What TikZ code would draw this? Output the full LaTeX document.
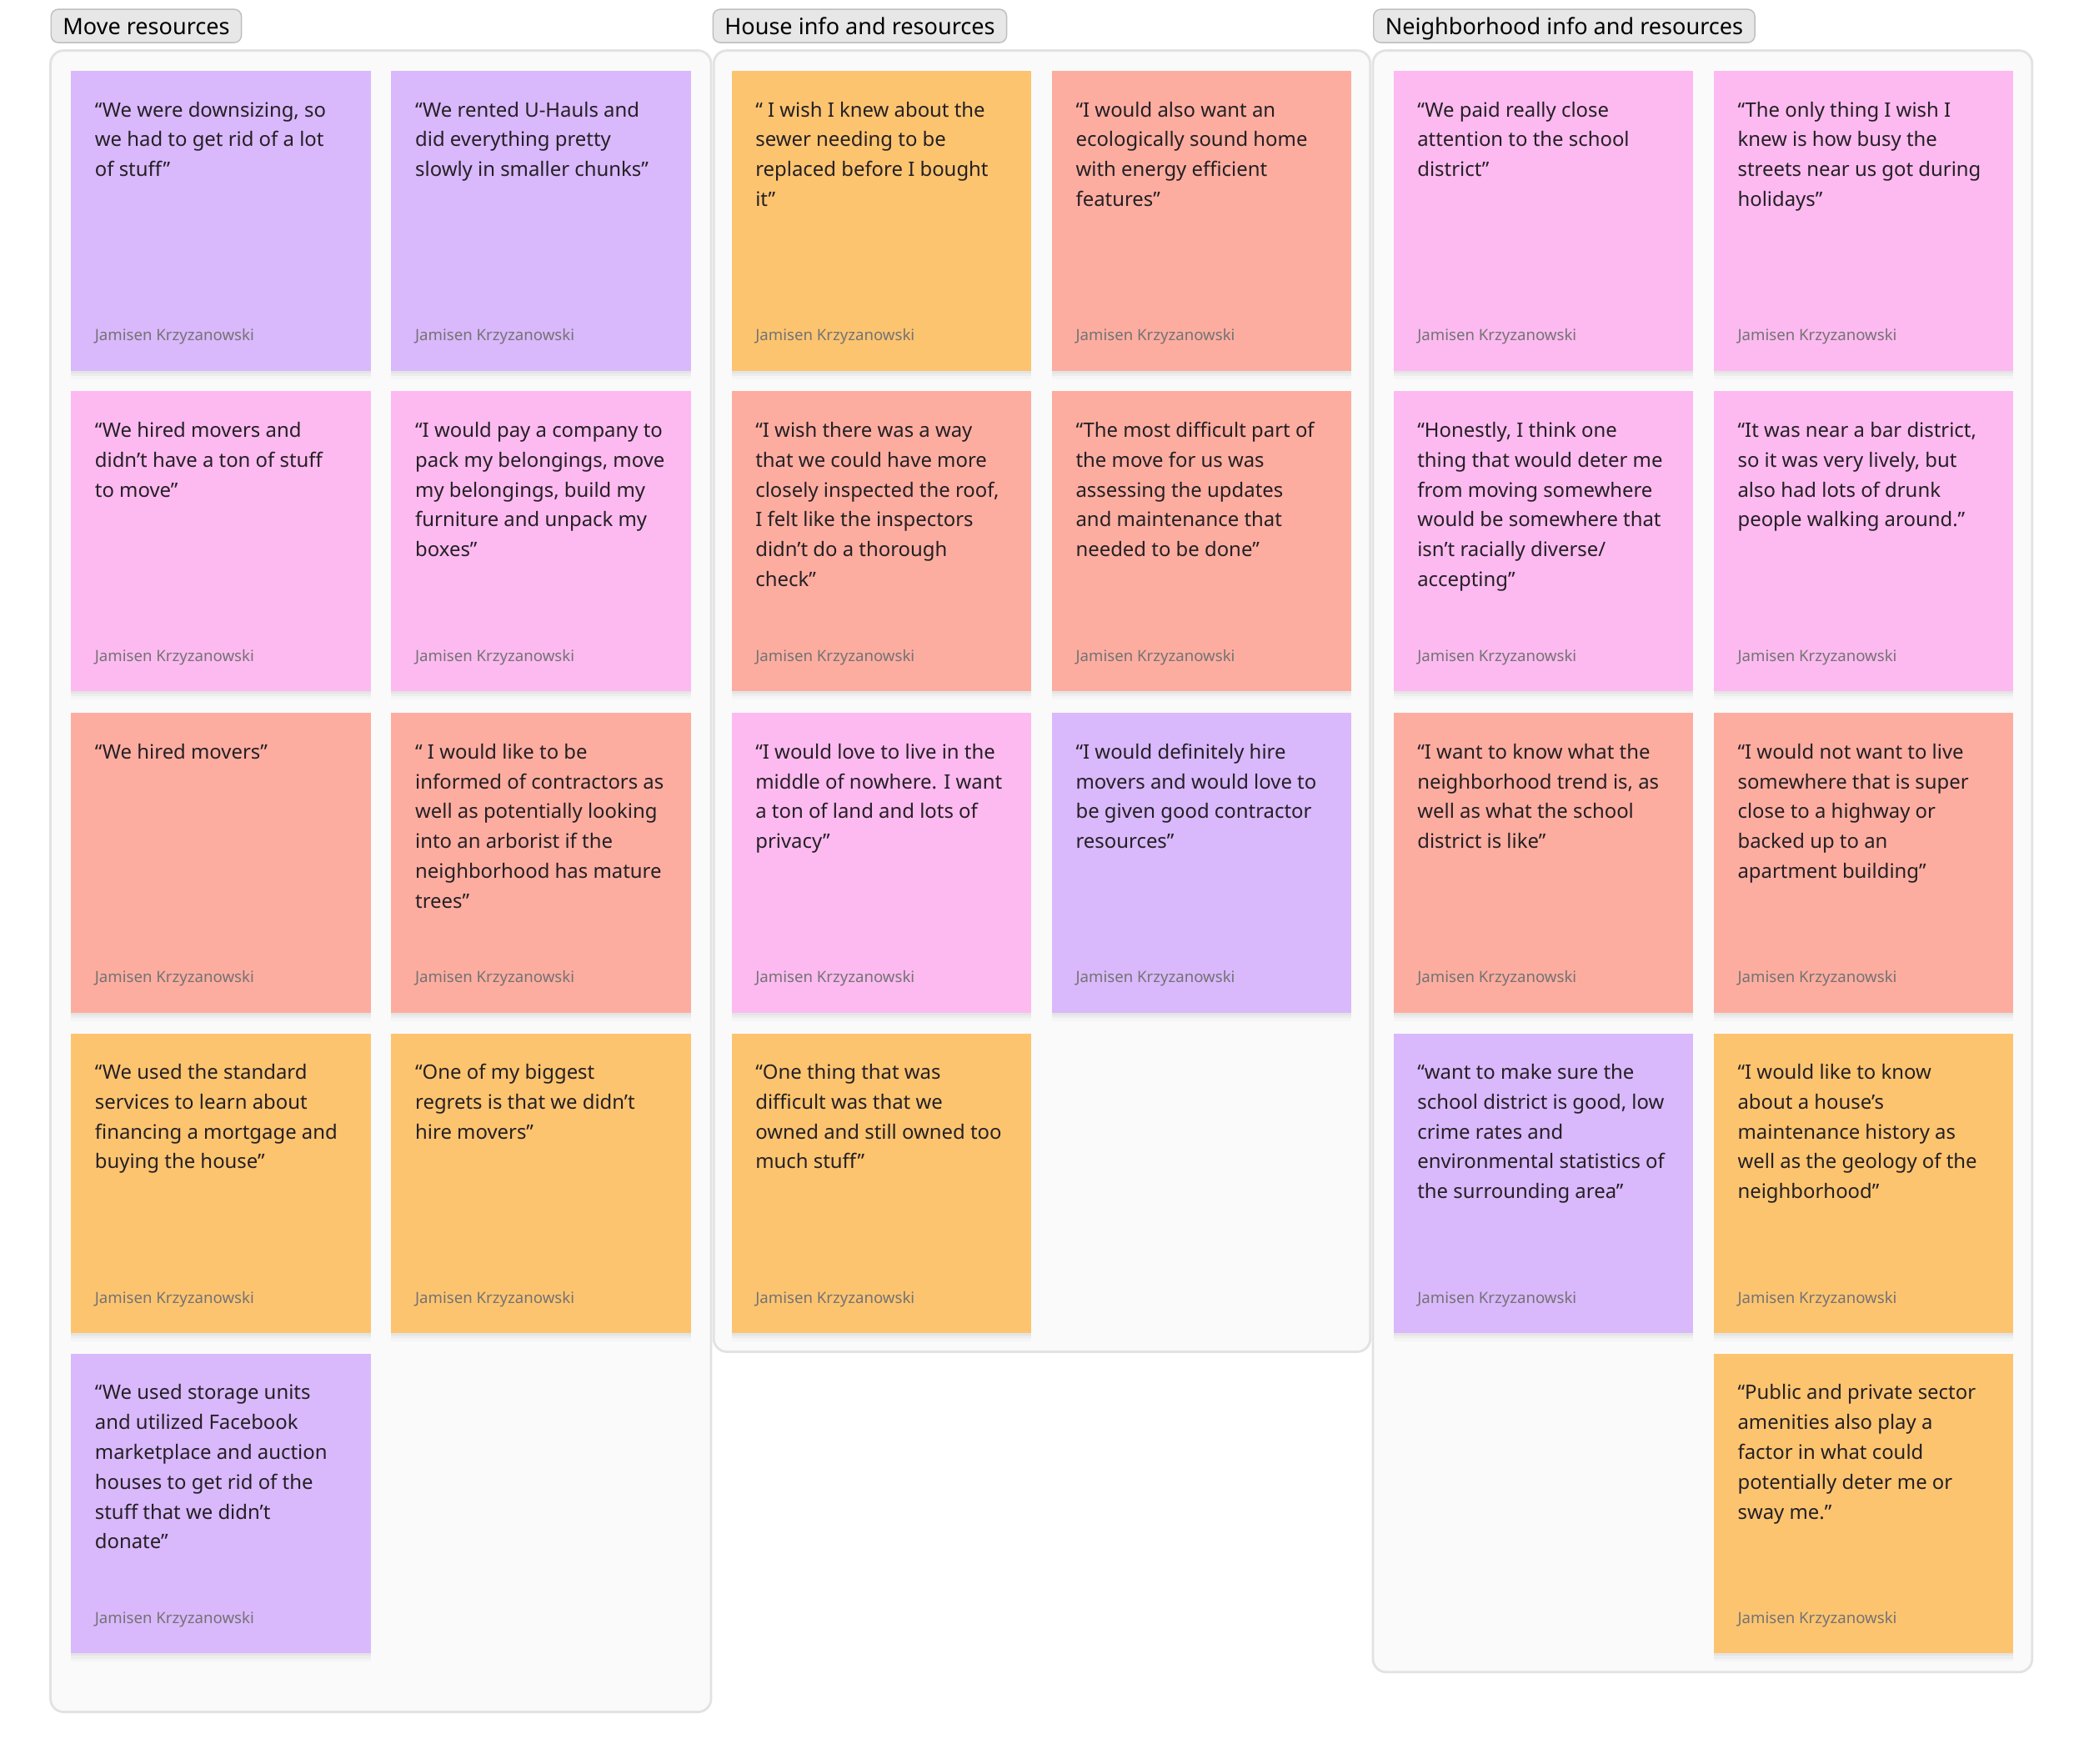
\documentclass[tikz,border=0pt]{standalone}
\usepackage{fontspec}
\setmainfont{Noto Sans}

\definecolor{cpurple}{RGB}{217,184,252}
\definecolor{cpink}{RGB}{253,186,240}
\definecolor{csalmon}{RGB}{253,173,160}
\definecolor{corange}{RGB}{253,196,112}
\definecolor{boardfill}{RGB}{250,250,250}
\definecolor{boardline}{RGB}{226,226,226}
\definecolor{tagfill}{RGB}{231,231,231}
\definecolor{tagline}{RGB}{190,190,190}
\definecolor{inktext}{RGB}{36,32,36}

% one sticky note: name, x of left edge, y of top edge, colour, text
\newcommand{\sticky}[5]{%
  \node[card, fill=#4, anchor=north west] (#1) at (#2,#3) {};
  \node[quote] (#1q) at ([shift={(18,23)}]#1.north west) {#5};
  \node[author] (#1a) at ([shift={(18,-23)}]#1.south west) {Jamisen Krzyzanowski};
}

\begin{document}
\begin{tikzpicture}[
  x=0.15944mm, y=-0.15944mm,
  board/.style={draw=boardline, line width=0.8pt, fill=boardfill, rounded corners=4.5pt},
  tag/.style={draw=tagline, fill=tagfill, rounded corners=2.5pt, anchor=west,
    minimum height=11.4pt, inner xsep=4pt, inner ysep=0pt,
    text height=6.6pt, text depth=0.8pt,
    font=\fontsize{7.7}{9}\selectfont},
  card/.style={rectangle, minimum size=35.95mm, inner sep=0pt,
    preaction={fill=black, fill opacity=0.035, transform canvas={yshift=-0.8pt}},
    preaction={fill=black, fill opacity=0.03, transform canvas={yshift=-1.8pt}},
    preaction={fill=black, fill opacity=0.02, transform canvas={yshift=-2.8pt}}},
  quote/.style={anchor=north west, inner sep=0pt, align=left, text=inktext,
    font=\fontsize{6.8}{10.2}\selectfont},
  author/.style={anchor=base west, inner sep=0pt, text=black!55,
    font=\fontsize{5.3}{6}\selectfont},
]
  \useasboundingbox (0,0) rectangle (1568,1327);

  % boards and their tags
  \draw[board] (38,38) rectangle (535,1288);
  \draw[board] (537,38) rectangle (1031,1017);
  \draw[board] (1033,38) rectangle (1529,1258);
  \node[tag] (tmove) at (38,19.5) {Move resources};
  \node[tag] (thouse) at (536,19.5) {House info and resources};
  \node[tag] (thood) at (1033,19.5) {Neighborhood info and resources};

  % move resources
  \sticky{mv1}{53}{53}{cpurple}{“We were downsizing, so\\we had to get rid of a lot\\of stuff”}
  \sticky{mv2}{294}{53}{cpurple}{“We rented U-Hauls and\\did everything pretty\\slowly in smaller chunks”}
  \sticky{mv3}{53}{294}{cpink}{“We hired movers and\\didn’t have a ton of stuff\\to move”}
  \sticky{mv4}{294}{294}{cpink}{“I would pay a company to\\pack my belongings, move\\my belongings, build my\\furniture and unpack my\\boxes”}
  \sticky{mv5}{53}{536}{csalmon}{“We hired movers”}
  \sticky{mv6}{294}{536}{csalmon}{“ I would like to be\\informed of contractors as\\well as potentially looking\\into an arborist if the\\neighborhood has mature\\trees”}
  \sticky{mv7}{53}{777}{corange}{“We used the standard\\services to learn about\\financing a mortgage and\\buying the house”}
  \sticky{mv8}{294}{777}{corange}{“One of my biggest\\regrets is that we didn’t\\hire movers”}
  \sticky{mv9}{53}{1018}{cpurple}{“We used storage units\\and utilized Facebook\\marketplace and auction\\houses to get rid of the\\stuff that we didn’t\\donate”}

  % house info
  \sticky{hs1}{550}{53}{corange}{“ I wish I knew about the\\sewer needing to be\\replaced before I bought\\it”}
  \sticky{hs2}{791}{53}{csalmon}{“I would also want an\\ecologically sound home\\with energy efficient\\features”}
  \sticky{hs3}{550}{294}{csalmon}{“I wish there was a way\\that we could have more\\closely inspected the roof,\\I felt like the inspectors\\didn’t do a thorough\\check”}
  \sticky{hs4}{791}{294}{csalmon}{“The most difficult part of\\the move for us was\\assessing the updates\\and maintenance that\\needed to be done”}
  \sticky{hs5}{550}{536}{cpink}{“I would love to live in the\\middle of nowhere. I want\\a ton of land and lots of\\privacy”}
  \sticky{hs6}{791}{536}{cpurple}{“I would definitely hire\\movers and would love to\\be given good contractor\\resources”}
  \sticky{hs7}{550}{777}{corange}{“One thing that was\\difficult was that we\\owned and still owned too\\much stuff”}

  % neighborhood info
  \sticky{nb1}{1048}{53}{cpink}{“We paid really close\\attention to the school\\district”}
  \sticky{nb2}{1289}{53}{cpink}{“The only thing I wish I\\knew is how busy the\\streets near us got during\\holidays”}
  \sticky{nb3}{1048}{294}{cpink}{“Honestly, I think one\\thing that would deter me\\from moving somewhere\\would be somewhere that\\isn’t racially diverse/\\accepting”}
  \sticky{nb4}{1289}{294}{cpink}{“It was near a bar district,\\so it was very lively, but\\also had lots of drunk\\people walking around.”}
  \sticky{nb5}{1048}{536}{csalmon}{“I want to know what the\\neighborhood trend is, as\\well as what the school\\district is like”}
  \sticky{nb6}{1289}{536}{csalmon}{“I would not want to live\\somewhere that is super\\close to a highway or\\backed up to an\\apartment building”}
  \sticky{nb7}{1048}{777}{cpurple}{“want to make sure the\\school district is good, low\\crime rates and\\environmental statistics of\\the surrounding area”}
  \sticky{nb8}{1289}{777}{corange}{“I would like to know\\about a house’s\\maintenance history as\\well as the geology of the\\neighborhood”}
  \sticky{nb9}{1289}{1018}{corange}{“Public and private sector\\amenities also play a\\factor in what could\\potentially deter me or\\sway me.”}
\end{tikzpicture}
\end{document}
